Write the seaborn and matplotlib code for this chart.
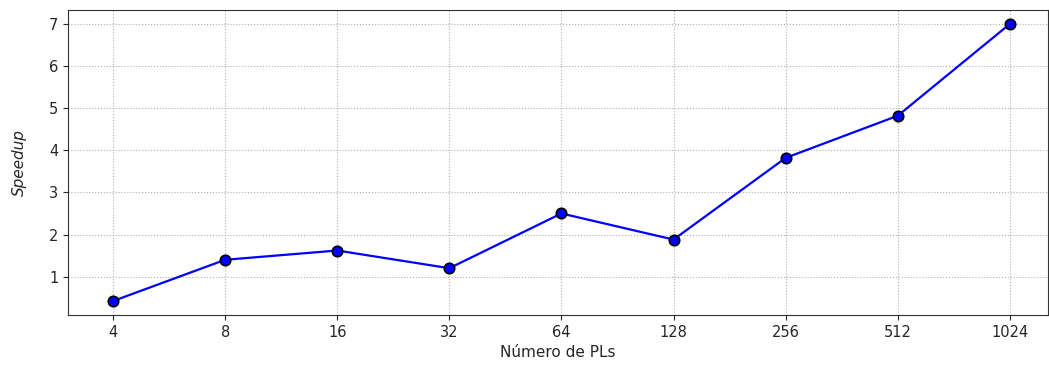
import matplotlib
matplotlib.use("Agg")
import matplotlib.pyplot as plt
import seaborn as sns
import pandas as pd

pls = ["4", "8", "16", "32", "64", "128", "256", "512", "1024"]
speedup = [0.42, 1.40, 1.62, 1.20, 2.50, 1.88, 3.82, 4.82, 7.00]

df = pd.DataFrame({"pls": pls, "speedup": speedup})

sns.set_style("ticks")
plt.rcParams['font.family'] = ['DejaVu Sans']

fig, ax = plt.subplots(figsize=(10.49, 3.74), dpi=100)
sns.lineplot(data=df, x="pls", y="speedup", ax=ax, color="blue", linewidth=1.6,
             marker="o", markersize=7.5, markeredgecolor="black", markeredgewidth=1.2,
             sort=False)
ax.grid(True, linestyle=":", color="#b0b0b0", linewidth=0.8)
ax.set_xlim(-0.4, 8.34)
ax.set_xlabel("Número de PLs", fontsize=11)
ax.set_ylabel("Speedup", fontsize=11, fontstyle="italic", labelpad=16)
ax.tick_params(labelsize=10.5)
for s in ax.spines.values():
    s.set_color("#333333")
fig.subplots_adjust(left=0.065, right=0.999, top=0.973, bottom=0.158)
fig.savefig("out.png")
